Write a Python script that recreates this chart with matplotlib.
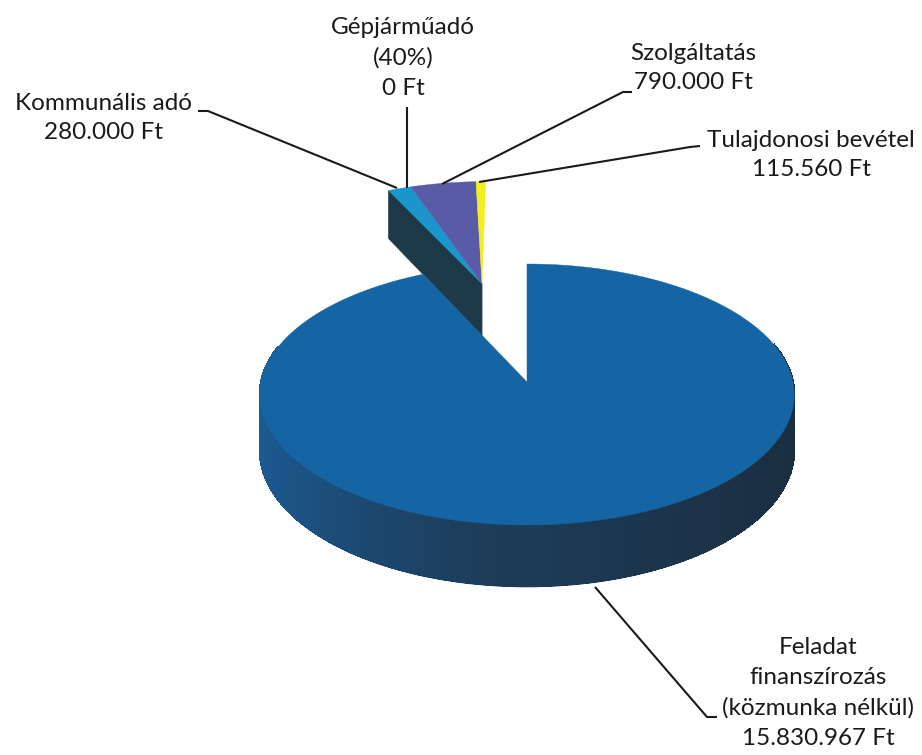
import matplotlib
matplotlib.use("Agg")
import matplotlib.pyplot as plt
import numpy as np
from matplotlib.colors import to_rgb
from matplotlib.patches import Polygon

# ── data ──────────────────────────────────────────────────────────────────────
labels = ["Feladat\nfinanszírozás\n(közmunka nélkül)\n15.830.967 Ft",
          "Kommunális adó\n280.000 Ft",
          "Gépjárműadó\n(40%)\n0 Ft",
          "Szolgáltatás\n790.000 Ft",
          "Tulajdonosi bevétel\n115.560 Ft"]
values  = [15830967, 280000, 0, 790000, 115560]
colors  = ["#1565a5", "#1b96cd", "#3b3f8f", "#5a5ba6", "#f4ee1c"]
explode = [0.0, 0.84, 0.84, 0.84, 0.84]

# ── 3D pie geometry (pixel space) ────────────────────────────────────────────
CX, CY = 527, 382       # apex of the pie on screen
R, K   = 266, 129.3     # horizontal radius, vertical foreshortening
P      = 0.0958         # perspective strength
DEPTH  = 56

FONT = ["Lato", "DejaVu Sans"]
plt.rcParams["font.family"] = FONT


def proj(u, v, z=0.0):
    s = 1.0 / (1.0 + P * v)
    return CX + R * u * s, CY - K * v * s + z * s


def shade(t):
    # side colour from left (t=-1) through front (0) to right (t=1)
    left, mid, right = map(np.array, map(to_rgb, ["#1b5b93", "#1d3b57", "#1b2d40"]))
    if t < 0:
        return tuple(mid + (left - mid) * (-t) ** 1.5)
    return tuple(mid + (right - mid) * t)


fig = plt.figure(figsize=(9.22, 7.55), dpi=100)
ax = fig.add_axes([0, 0, 1, 1])
ax.set_xlim(0, 922)
ax.set_ylim(755, 0)
ax.axis("off")

total  = float(sum(values))
bounds = np.concatenate([[0], np.cumsum(values)]) / total * 360.0

# exploded group offset (small slices moved out together along their mid angle)
grp_mid = np.radians((bounds[1] + 360.0) / 2)
du, dv = explode[1] * np.sin(grp_mid), explode[1] * np.cos(grp_mid)

# small slices: visible cut face of the first one, then top faces
a1 = np.radians(bounds[1])
ou, ov = np.sin(a1) + du, np.cos(a1) + dv
face = [proj(du, dv), proj(ou, ov), proj(ou, ov, DEPTH), proj(du, dv, DEPTH)]
ax.add_patch(Polygon(face, closed=True, fc="#1e3a48", ec="#1e3a48", lw=0.5, zorder=1))

for i in range(1, len(values)):
    if values[i] == 0:
        continue
    th = np.radians(np.linspace(bounds[i], bounds[i + 1], 20))
    pts = [proj(du, dv)] + [proj(np.sin(t) + du, np.cos(t) + dv) for t in th]
    ax.add_patch(Polygon(pts, closed=True, fc=colors[i], ec=colors[i], lw=0.3, zorder=2))

# big slice: side wall (base shape, then shaded strips), then top face
th_big = np.linspace(0, bounds[1], 241)
rad = np.radians(th_big)
front = rad[np.cos(rad) <= 0.3]
base = ([proj(np.sin(t), np.cos(t)) for t in front] +
        [proj(np.sin(t), np.cos(t), DEPTH) for t in front[::-1]])
ax.add_patch(Polygon(base, closed=True, fc="#1d3b57", ec="#1d3b57", lw=0.5, zorder=3))
for r0, r1 in zip(front[:-1], front[1:]):
    c = shade(np.sin((r0 + r1) / 2))
    strip = [proj(np.sin(r0), np.cos(r0)), proj(np.sin(r1), np.cos(r1)),
             proj(np.sin(r1), np.cos(r1), DEPTH - 0.8), proj(np.sin(r0), np.cos(r0), DEPTH - 0.8)]
    ax.add_patch(Polygon(strip, closed=True, fc=c, ec=c, lw=0.8,
                         antialiased=False, zorder=3))

top = [proj(0, 0)] + [proj(np.sin(t), np.cos(t)) for t in rad]
ax.add_patch(Polygon(top, closed=True, fc=colors[0], ec=colors[0], lw=0.3, zorder=4))

# ── labels and leader lines ──────────────────────────────────────────────────
txt = dict(ha="center", va="center", fontsize=17.5, color="#1a1a1a",
           linespacing=1.52, zorder=6)
label_pos = [(818, 693), (103, 118), (403, 58), (693, 68), (811, 155)]
leaders = [
    [(717, 717), (707, 717), (595, 587)],
    [(198, 111), (208, 111), (397, 188)],
    [(407, 107), (407, 188)],
    [(632, 92), (623, 92), (442, 184)],
    [(700, 146), (690, 147), (479, 182)],
]
for lab, (x, y), pts in zip(labels, label_pos, leaders):
    ax.text(x, y, lab, **txt)
    xs, ys = zip(*pts)
    ax.plot(xs, ys, color="#1a1a1a", lw=1.5, solid_capstyle="butt", zorder=5)

fig.savefig("out.png", dpi=100, facecolor="white")
